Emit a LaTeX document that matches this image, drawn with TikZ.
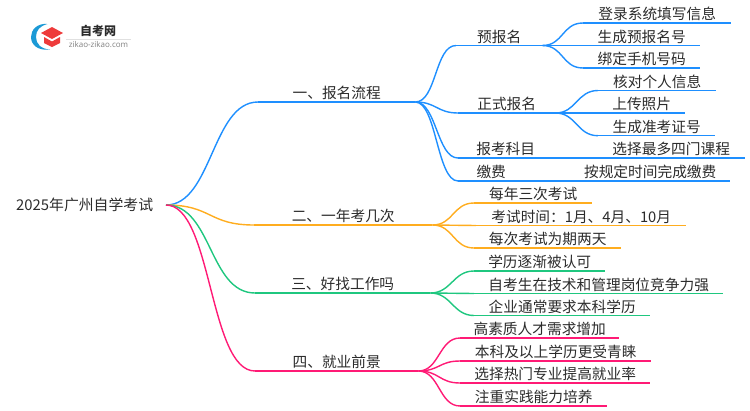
\documentclass[tikz,border=0pt]{standalone}
\usepackage{fontspec}
\setmainfont{Noto Sans CJK SC}
\newfontfamily\logofont{Open Sans}
\definecolor{branchblue}{HTML}{1E8FFF}
\definecolor{branchorange}{HTML}{FFAD1F}
\definecolor{branchgreen}{HTML}{1FC77F}
\definecolor{branchpink}{HTML}{FF1A75}
\definecolor{capred}{HTML}{EE3B3B}
\definecolor{logoblue}{HTML}{1C9AD6}
\definecolor{textgrey}{HTML}{2B2B2B}
\tikzset{
    topic/.style={inner sep=0pt, anchor=south west, minimum height=17pt, text=textgrey, font=\fontsize{14.7}{16}\selectfont, align=center},
    link/.style={to path={.. controls +(#1,0) and +(-#1,0) .. (\tikztotarget)}},
    branch/.style={line width=1.4pt, draw=#1},
}
% one underlined label: name, colour, left x, right x, baseline y, text
\newcommand{\topicnode}[6]{
    \node[topic] (#1) at (#3,#5) [minimum width=#4pt-#3pt] {#6};
    \draw[branch=#2] (#1.south west) -- (#1.south east);
}
\begin{document}
\begin{tikzpicture}[x=1pt,y=-1pt]
    \useasboundingbox (0,0) rectangle (750,410);

    % Logo
    \fill[logoblue] (47.5,24) .. controls (37,23) and (31,30) .. (31,37) .. controls (31,45) and (38,51) .. (50,49.5) .. controls (41,49) and (36,44) .. (36,37) .. controls (36,30) and (40,26) .. (47.5,24) -- cycle;
    \fill[capred] (52,27) -- (63,33) -- (52,39) -- (41,33) -- cycle;
    \fill[capred] (44,37) -- (52,41.5) -- (60,37) -- (60,43) -- (52,47) -- (44,43) -- cycle;
    \node[inner sep=0pt, font=\fontsize{12}{13}\bfseries\selectfont, text=textgrey] (logotitle) at (98,31) {自考网};
    \node[inner sep=0pt, font=\logofont\fontsize{8}{9}\selectfont, text=gray] (logourl) at (98.5,45) {zikao-zikao.com};
    \draw[black!12, line width=0.5pt] (66,39) -- (131,39);

    % Root
    \node[inner sep=0pt, anchor=west, text=textgrey, font=\fontsize{14.85}{16}\selectfont] (root) at (16,205) {2025年广州自学考试};
    \coordinate (start) at (166,205);

    % Branch one
    \topicnode{one}{branchblue}{258}{415}{102}{一、报名流程}
    \topicnode{pre}{branchblue}{456}{542}{45.5}{预报名}
    \topicnode{formal}{branchblue}{458}{555}{113}{正式报名}
    \topicnode{subject}{branchblue}{458}{553}{158}{报考科目}
    \topicnode{fee}{branchblue}{458}{524}{181}{缴费}
    \topicnode{login}{branchblue}{583}{731}{23}{登录系统填写信息}
    \topicnode{number}{branchblue}{583}{700}{45.5}{生成预报名号}
    \topicnode{phone}{branchblue}{583}{700}{68}{绑定手机号码}
    \topicnode{check}{branchblue}{598}{716}{90.5}{核对个人信息}
    \topicnode{photo}{branchblue}{598}{685}{113}{上传照片}
    \topicnode{ticket}{branchblue}{598}{715}{135.7}{生成准考证号}
    \topicnode{four}{branchblue}{597}{745}{158}{选择最多四门课程}
    \topicnode{pay}{branchblue}{570}{730}{181}{按规定时间完成缴费}
    \draw[branch=branchblue] (start) to[link=46] (one.south west);
    \foreach \a in {pre,formal,subject,fee}
        \draw[branch=branchblue] (one.south east) to[link=21] (\a.south west);
    \foreach \a in {login,number,phone}
        \draw[branch=branchblue] (pre.south east) to[link=21] (\a.south west);
    \foreach \a in {check,photo,ticket}
        \draw[branch=branchblue] (formal.south east) to[link=21] (\a.south west);
    \draw[branch=branchblue] (subject.south east) -- (four.south west);
    \draw[branch=branchblue] (fee.south east) -- (pay.south west);

    % Branch two
    \topicnode{two}{branchorange}{254}{432}{225}{二、一年考几次}
    \topicnode{times}{branchorange}{474}{592}{203}{每年三次考试}
    \topicnode{months}{branchorange}{476}{686}{225.5}{考试时间：1月、4月、10月}
    \topicnode{days}{branchorange}{474}{621}{248}{每次考试为期两天}
    \draw[branch=branchorange] (start) to[link=46] (two.south west);
    \foreach \a in {times,months,days}
        \draw[branch=branchorange] (two.south east) to[link=21] (\a.south west);

    % Branch three
    \topicnode{three}{branchgreen}{255}{430}{293}{三、好找工作吗}
    \topicnode{accept}{branchgreen}{474}{605}{271}{学历逐渐被认可}
    \topicnode{compete}{branchgreen}{474}{723}{293.5}{自考生在技术和管理岗位竞争力强}
    \topicnode{degree}{branchgreen}{474}{650}{315.5}{企业通常要求本科学历}
    \draw[branch=branchgreen] (start) to[link=46] (three.south west);
    \foreach \a in {accept,compete,degree}
        \draw[branch=branchgreen] (three.south east) to[link=21] (\a.south west);

    % Branch four
    \topicnode{fourth}{branchpink}{255}{418}{371}{四、就业前景}
    \topicnode{talent}{branchpink}{460}{619}{338}{高素质人才需求增加}
    \topicnode{favour}{branchpink}{460}{651}{361}{本科及以上学历更受青睐}
    \topicnode{major}{branchpink}{460}{650}{383}{选择热门专业提高就业率}
    \topicnode{skill}{branchpink}{460}{607}{406}{注重实践能力培养}
    \draw[branch=branchpink] (start) to[link=46] (fourth.south west);
    \foreach \a in {talent,favour,major,skill}
        \draw[branch=branchpink] (fourth.south east) to[link=21] (\a.south west);
\end{tikzpicture}
\end{document}
